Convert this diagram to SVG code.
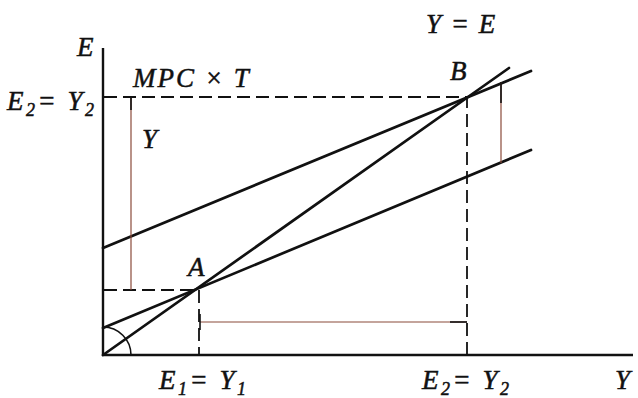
<svg xmlns="http://www.w3.org/2000/svg" width="638" height="398" viewBox="0 0 638 398">
<style>
.ax{stroke:#111;stroke-width:2.4;fill:none;stroke-linecap:butt}
.ln{stroke:#111;stroke-width:2.7;fill:none;stroke-linecap:round}
.ds{stroke:#111;stroke-width:1.8;fill:none;stroke-dasharray:13 6}
.th{stroke:#8a4a3a;stroke-width:1.2;fill:none}
.tk{stroke:#111;stroke-width:1.6;fill:none}
text{font-family:"Liberation Serif","DejaVu Serif",serif;font-style:italic;fill:#111;stroke:#111;stroke-width:0.5;font-size:27px}
.sub{font-size:18px}
.eq{letter-spacing:2.5px}
</style>
<rect width="638" height="398" fill="#fff"/>
<g id="axes">
<line class="ax" x1="103" y1="48" x2="103" y2="356"/>
<line class="ax" x1="102" y1="355" x2="633" y2="355"/>
<path class="tk" d="M103 327 A28 28 0 0 1 131 355"/>
</g>
<g id="curves">
<line class="ln" x1="103" y1="355" x2="509" y2="68"/>
<line class="ln" x1="103" y1="328" x2="531" y2="150"/>
<line class="ln" x1="103" y1="248" x2="531" y2="71"/>
</g>
<g id="connectors">
<polyline class="ds" points="104,97 467,97 467,355"/>
<polyline class="ds" points="104,290 199,290 199,355"/>
<line class="th" x1="131" y1="98" x2="131" y2="290"/>
<line class="tk" x1="131" y1="98" x2="131" y2="110"/>
<line class="th" x1="200" y1="322" x2="467" y2="322"/>
<line class="tk" x1="200" y1="314" x2="200" y2="330"/>
<line class="tk" x1="450" y1="322" x2="467" y2="322"/>
<line class="th" x1="501" y1="82" x2="501" y2="163"/>
<line class="tk" x1="501" y1="82" x2="501" y2="103"/>
</g>
<g id="labels">
<text x="77" y="56">E</text>
<text x="7" y="110" class="eq">E<tspan class="sub" dy="6">2</tspan><tspan dy="-6">= Y</tspan><tspan class="sub" dy="6">2</tspan></text>
<text x="133" y="87" letter-spacing="2">MPC × T</text>
<text x="142" y="148">Y</text>
<text x="426" y="33" letter-spacing="1.5">Y = E</text>
<text x="450" y="80">B</text>
<text x="188" y="276">A</text>
<text x="159" y="389" class="eq">E<tspan class="sub" dy="6">1</tspan><tspan dy="-6">= Y</tspan><tspan class="sub" dy="6">1</tspan></text>
<text x="422" y="389" class="eq">E<tspan class="sub" dy="6">2</tspan><tspan dy="-6">= Y</tspan><tspan class="sub" dy="6">2</tspan></text>
<text x="615" y="389">Y</text>
</g>
</svg>
